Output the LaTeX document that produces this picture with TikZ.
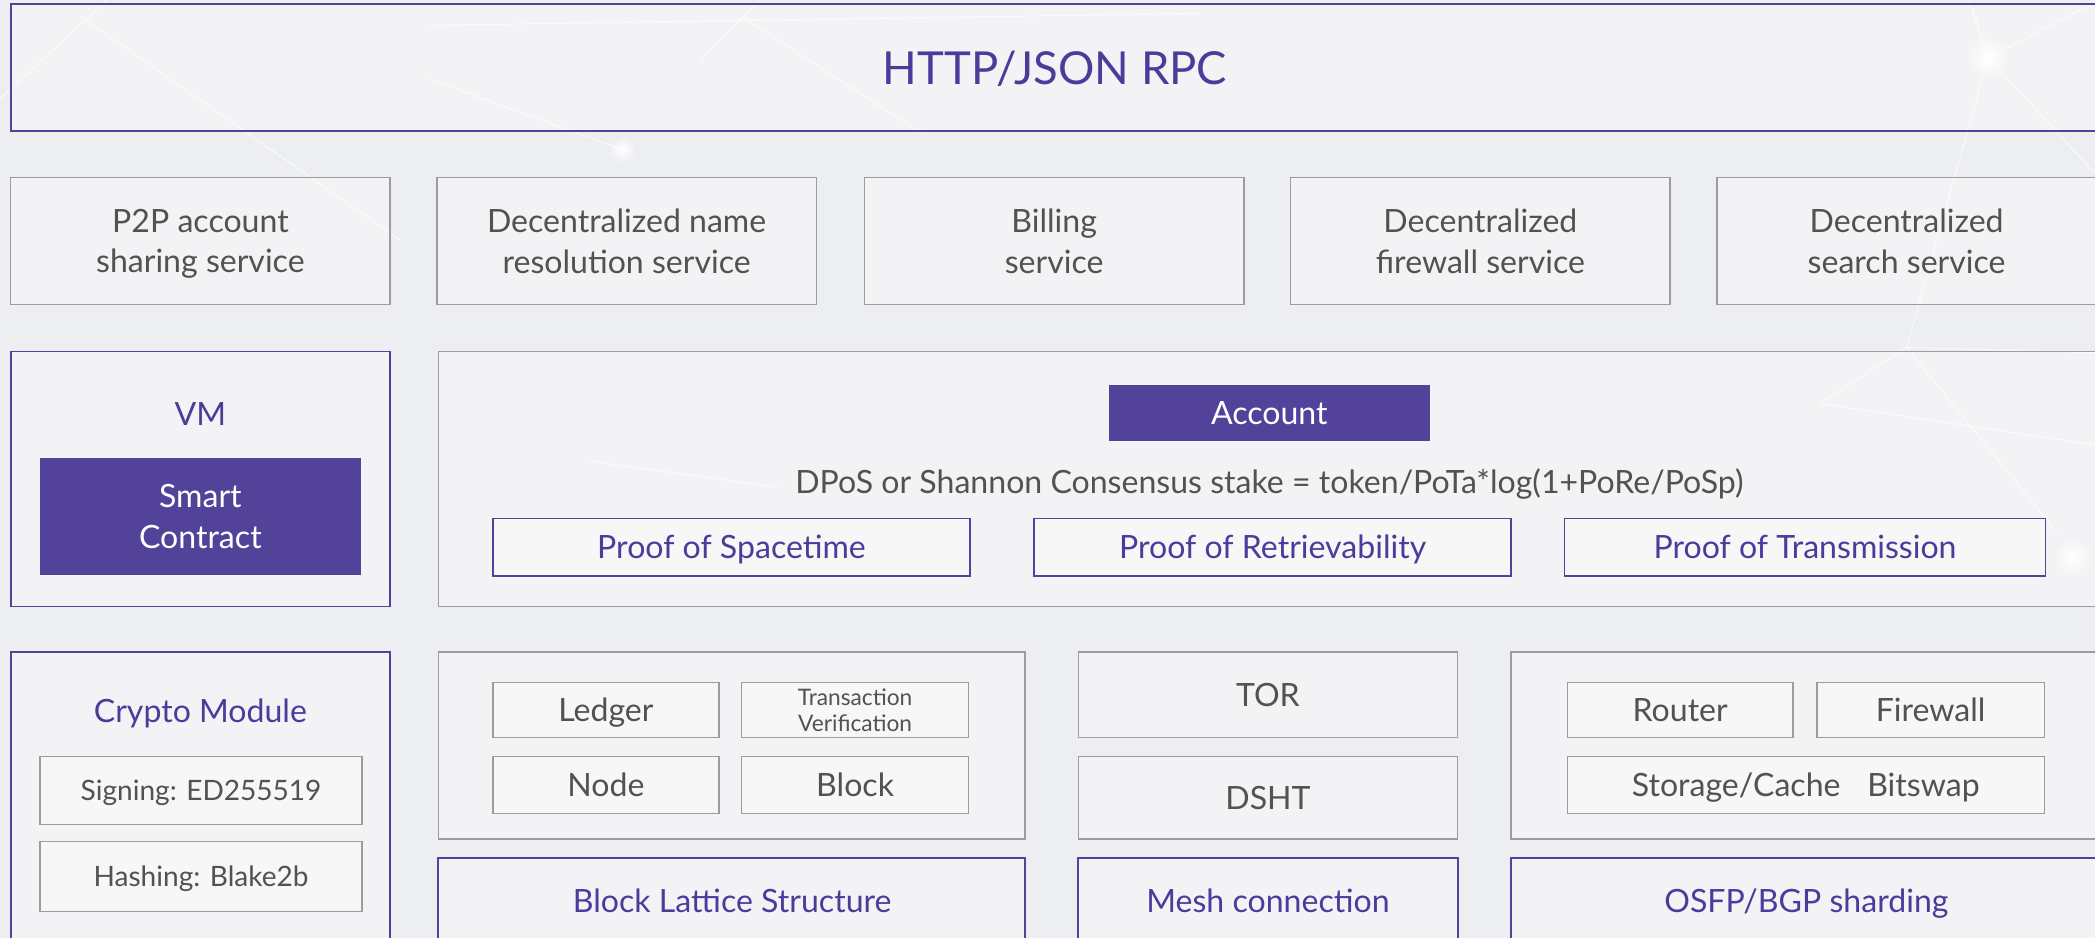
\documentclass[tikz,border=0pt]{standalone}
\usepackage{fontspec}
\setmainfont{Lato}
\definecolor{purp}{HTML}{52429A}
\definecolor{ptext}{HTML}{4B3C9C}
\definecolor{gtext}{HTML}{525252}
\definecolor{gline}{HTML}{9C9C9C}
\definecolor{bgc}{HTML}{EDEEF1}
\newcommand\fs[2]{\fontsize{#1}{#2}\selectfont}
\tikzset{
  basebox/.style={inner sep=0pt, align=center, text depth=0pt, fill=white, fill opacity=0.35, text opacity=1},
  gbox/.style={basebox, draw=gline, line width=1.1pt, text=gtext, font=\fs{24}{30}},
  pbox/.style={basebox, draw=purp, line width=1.3pt, text=ptext, font=\fs{24}{30}},
  fbox/.style={inner sep=0pt, align=center, text depth=0pt, fill=purp, text=white, font=\fs{24}{30}},
  plbl/.style={inner sep=0pt, align=center, text depth=0pt, text=ptext, font=\fs{24}{30}},
  glbl/.style={inner sep=0pt, align=center, text depth=0pt, text=gtext, font=\fs{24}{30}},
  bgline/.style={white, line width=0.9pt, opacity=0.6},
}
\newcommand\bx[7]{\node[#2, minimum width={(#5-#3)*1pt}, minimum height={(#6-#4)*1pt}] (#1) at ({(#3+#5)/2},{(#4+#6)/2}) {#7};}
\begin{document}
\begin{tikzpicture}[x=1pt,y=-1pt]
\useasboundingbox (0,0) rectangle (1568,702);
\clip (0,0) rectangle (1568,702);
\fill[bgc] (0,0) rectangle (1568,702);
% faint background network
\shade[inner color=white, outer color=bgc] (1488,43) circle (16);
\shade[inner color=white, outer color=bgc] (466,112) circle (10);
\shade[inner color=white, outer color=bgc] (1551,417) circle (14);
\draw[bgline] (0,74) -- (80,0);
\draw[bgline] (60,12) -- (300,180);
\draw[bgline] (320,19) -- (900,10);
\draw[bgline] (321,59) -- (466,112);
\draw[bgline] (555,12) -- (690,100);
\draw[bgline] (524,45) -- (567,2);
\draw[bgline] (1488,43) -- (1568,2);
\draw[bgline] (1488,43) -- (1474,0);
\draw[bgline] (1488,43) -- (1427,260);
\draw[bgline] (1427,260) -- (1568,264);
\draw[bgline] (1427,260) -- (1540,399);
\draw[bgline] (1488,43) -- (1568,130);
\draw[bgline] (1362,302) -- (1427,260);
\draw[bgline] (1362,302) -- (1568,333);
\draw[bgline] (441,345) -- (584,365);
% top
\bx{http}{pbox, font=\fs{34}{40}}{8}{3}{1571}{98}{HTTP/JSON RPC}
% services
\bx{p2p}{gbox}{8}{133}{292}{228}{P2P account\\sharing service}
\bx{dns}{gbox}{327}{133}{611}{228}{Decentralized name\\resolution service}
\bx{bill}{gbox}{647}{133}{931}{228}{Billing\\service}
\bx{dfw}{gbox}{966}{133}{1250}{228}{Decentralized\\firewall service}
\bx{search}{gbox}{1285}{133}{1569}{228}{Decentralized\\search service}
% VM
\bx{vm}{pbox}{8}{263}{292}{454}{}
\node[plbl] (vmt) at (150,310) {VM};
\bx{sc}{fbox}{30}{343}{270}{430}{Smart\\Contract}
% consensus
\bx{cons}{gbox}{328}{263}{1571}{454}{}
\bx{acct}{fbox}{830}{288}{1070}{330}{Account}
\node[glbl] (dpos) at (950,360) {DPoS or Shannon Consensus stake = token/PoTa*log(1+PoRe/PoSp)};
\bx{pst}{pbox}{369}{388}{726}{431}{Proof of Spacetime}
\bx{pre}{pbox}{774}{388}{1131}{431}{Proof of Retrievability}
\bx{ptr}{pbox}{1171}{388}{1531}{431}{Proof of Transmission}
% crypto
\bx{crypto}{pbox}{8}{488}{292}{720}{}
\node[plbl] (cryt) at (150,532) {Crypto Module};
\bx{sign}{gbox, font=\fs{21}{25}}{30}{566}{271}{617}{Signing: ED255519}
\bx{hash}{gbox, font=\fs{21}{25}}{30}{630}{271}{682}{Hashing: Blake2b}
% ledger group
\bx{lgrp}{gbox}{328}{488}{767}{628}{}
\bx{ledger}{gbox}{369}{511}{538}{552}{Ledger}
\bx{txv}{gbox, font=\fs{17}{20}}{555}{511}{725}{552}{Transaction\\Verification}
\bx{nodeb}{gbox}{369}{566}{538}{609}{Node}
\bx{block}{gbox}{555}{566}{725}{609}{Block}
\bx{lattice}{pbox}{328}{642}{767}{720}{}
\node[plbl] (latt) at (548,674) {Block Lattice Structure};
% network column
\bx{tor}{gbox}{807}{488}{1091}{552}{TOR}
\bx{dsht}{gbox}{807}{566}{1091}{628}{DSHT}
\bx{mesh}{pbox}{807}{642}{1091}{720}{}
\node[plbl] (mesht) at (949,674) {Mesh connection};
% right group
\bx{rgrp}{gbox}{1131}{488}{1571}{628}{}
\bx{router}{gbox}{1173}{511}{1342}{552}{Router}
\bx{fwall}{gbox}{1360}{511}{1530}{552}{Firewall}
\bx{store}{gbox}{1173}{566}{1530}{609}{Storage/Cache\hspace{20pt}Bitswap}
\bx{osfp}{pbox}{1131}{642}{1571}{720}{}
\node[plbl] (osfpt) at (1352,674) {OSFP/BGP sharding};
\end{tikzpicture}
\end{document}
